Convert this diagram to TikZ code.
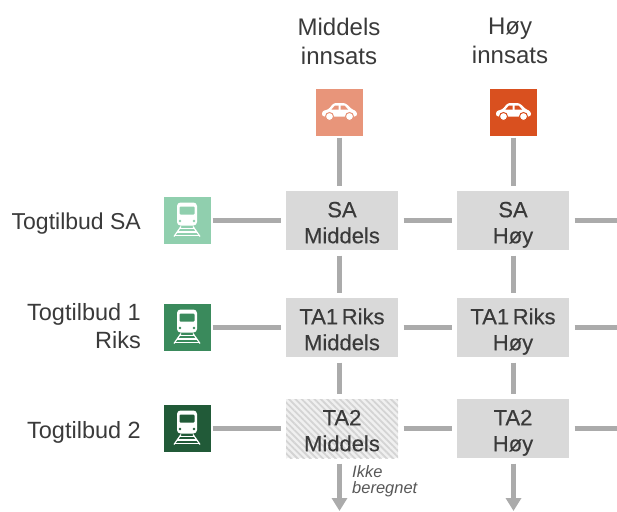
\documentclass[tikz,border=0pt]{standalone}
\usepackage{fontspec}
\setmainfont{Liberation Sans}
\newfontfamily\cellfont[FakeBold=0.35,WordSpace=0.6]{Liberation Sans}
\usetikzlibrary{
  arrows.meta,
  patterns.meta,
}
\definecolor{linkgray}{HTML}{ABABAB}
\definecolor{cellgray}{HTML}{D9D9D9}
\definecolor{inktext}{HTML}{3A3A3A}
\definecolor{carmid}{HTML}{E8957A}
\definecolor{carhigh}{HTML}{D9501F}
\definecolor{trainsa}{HTML}{90CFAE}
\definecolor{trainone}{HTML}{3A8A5C}
\definecolor{traintwo}{HTML}{215A38}
\newcommand{\celltext}[2]{\rule{0pt}{24pt}#1\\#2\vphantom{y}}
\tikzset{
  >={Triangle[width=15pt,length=13pt]},
  x=1pt,
  y=-1pt,
  cell/.style={minimum width=112pt, minimum height=59pt, inner sep=0pt,
    outer sep=5.5pt, align=center, text=inktext,
    font=\cellfont\fontsize{22}{26}\selectfont},
  filled/.style={cell, fill=cellgray},
  hatched/.style={cell, fill=black!6, postaction={pattern={Lines[angle=-45,
    distance=4.5pt, line width=1.8pt]}, pattern color=black!17}},
  icon/.style={minimum size=47pt, inner sep=0pt, outer sep=2pt},
  rowlabel/.style={anchor=east, align=right, text=inktext, inner sep=0pt,
    font=\fontsize{23.5}{28}\selectfont},
  collabel/.style={align=center, text=inktext, inner sep=0pt,
    font=\fontsize{24}{29}\selectfont},
  note/.style={anchor=west, align=left, text=inktext!85, inner sep=0pt,
    font=\fontsize{16.5}{16}\selectfont\itshape},
  link/.style={draw=linkgray, line width=4.5pt},
  pics/carsym/.style={code={
    \fill[white, rounded corners=2.5pt] (-17.5,4.5) -- (-17.5,-1) -- (-11,-2.5)
      -- (-6,-9) -- (6,-9) -- (12,-3) -- (17.5,-0.5) -- (17.5,4.5) -- cycle;
    \fill[#1] (-8,-2.5) -- (-4.5,-6.5) -- (-1,-6.5) -- (-1,-2.5) -- cycle;
    \fill[#1] (1,-2.5) -- (1,-6.5) -- (5,-6.5) -- (8.5,-2.5) -- cycle;
    \foreach \wx in {-10,10}
    {
      \fill[white, draw=#1, line width=1pt] (\wx,4.5) circle (4pt);
    }
  }},
  pics/trainsym/.style={code={
    \fill[white, rounded corners=3.5pt] (-10,5) rectangle (10,-18);
    \fill[#1, rounded corners=1pt] (-7.5,-14) rectangle (7.5,-6);
    \fill[#1] (-7,0.5) circle (1.3pt) (7,0.5) circle (1.3pt);
    \draw[white, line width=1.2pt] (-6,6) -- (-13,16) (6,6) -- (13,16);
    \foreach \ry/\rw in {8/7.5, 11.5/10, 15/12.5}
    {
      \draw[white, line width=1.5pt] (-\rw,\ry) -- (\rw,\ry);
    }
  }},
}

\begin{document}
\begin{tikzpicture}
      \useasboundingbox (0,0) rectangle (617,511);
      % headers
      \node[collabel] (head-mid) at (339,41) {Middels\\innsats};
      \node[collabel] (head-high) at (510,41) {Høy\\innsats};
      \node[icon, fill=carmid] (car-mid) at (339.5,112) {};
      \node[icon, fill=carhigh] (car-high) at (513.5,112) {};
      \pic at (car-mid) {carsym=carmid};
      \pic at (car-high) {carsym=carhigh};
      % rows
      \node[rowlabel, font=\fontsize{23}{28}\selectfont] (lab-sa) at (141,223.5) {Togtilbud SA};
      \node[rowlabel] (lab-one) at (141,326) {Togtilbud 1\\Riks};
      \node[rowlabel] (lab-two) at (141,432.5) {Togtilbud 2};
      \node[icon, fill=trainsa] (train-sa) at (187,220.5) {};
      \node[icon, fill=trainone] (train-one) at (187,327.5) {};
      \node[icon, fill=traintwo] (train-two) at (187,428.5) {};
      \pic at (train-sa) {trainsym=trainsa};
      \pic at (train-one) {trainsym=trainone};
      \pic at (train-two) {trainsym=traintwo};
      % cells
      \node[filled] (sa-mid) at (342,220.5) {\celltext{SA}{Middels}};
      \node[filled] (sa-high) at (513,220.5) {\celltext{SA}{Høy}};
      \node[filled] (one-mid) at (342,327.5) {\celltext{TA1 Riks}{Middels}};
      \node[filled] (one-high) at (513,327.5) {\celltext{TA1 Riks}{Høy}};
      \node[hatched] (two-mid) at (342,428.5) {\celltext{TA2}{Middels}};
      \node[filled] (two-high) at (513,428.5) {\celltext{TA2}{Høy}};
      % free ends
      \coordinate (end-sa) at (617,220.5);
      \coordinate (end-one) at (617,327.5);
      \coordinate (end-two) at (617,428.5);
      \coordinate (end-mid) at (339.5,511);
      \coordinate (end-high) at (513.5,511);
      \foreach \r in {sa,one,two}
      {
        \draw[link] (train-\r) -- (\r-mid);
        \draw[link] (\r-mid) -- (\r-high);
        \draw[link] (\r-high) -- (end-\r);
      }
      \foreach \c in {mid,high}
      {
        \draw[link] (car-\c) -- (car-\c |- sa-\c.north);
        \draw[link] (car-\c |- sa-\c.south) -- (car-\c |- one-\c.north);
        \draw[link] (car-\c |- one-\c.south) -- (car-\c |- two-\c.north);
        \draw[link, ->] (car-\c |- two-\c.south) -- (end-\c);
      }
      \node[note] (note-mid) at (352,481) {Ikke\\beregnet};
\end{tikzpicture}
\end{document}
